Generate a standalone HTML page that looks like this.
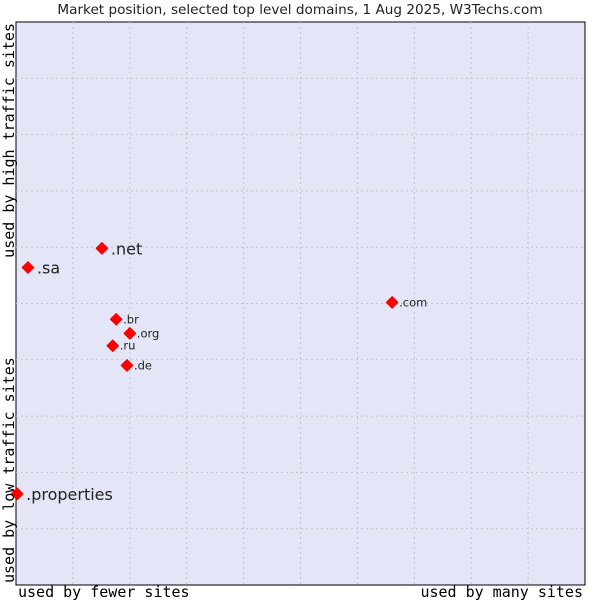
<!DOCTYPE html>
<html><head><meta charset="utf-8"><style>
body{margin:0;background:#fff;width:600px;height:600px;overflow:hidden}
svg{display:block}
</style></head><body>
<svg id="chart" width="600" height="600" xmlns="http://www.w3.org/2000/svg">
<text x="300" y="14" text-anchor="middle" font-family="DejaVu Sans, sans-serif" font-size="13.6" fill="#222">Market position, selected top level domains, 1 Aug 2025, W3Techs.com</text>
<rect x="16" y="22" width="569" height="563" fill="#e4e6f8" stroke="#000" stroke-width="1"/>
<g id="grid"></g>
<g id="points"></g>
<text x="18" y="597" font-family="DejaVu Sans Mono, monospace" font-size="15" fill="#000">used by fewer sites</text>
<text x="583" y="597" text-anchor="end" font-family="DejaVu Sans Mono, monospace" font-size="15" fill="#000">used by many sites</text>
<text transform="translate(14,23) rotate(-90)" text-anchor="end" font-family="DejaVu Sans Mono, monospace" font-size="15" fill="#000">used by high traffic sites</text>
<text transform="translate(14,583) rotate(-90)" font-family="DejaVu Sans Mono, monospace" font-size="15" fill="#000">used by low traffic sites</text>
</svg>
<script>
const labels = [".net", ".sa", ".com", ".br", ".org", ".ru", ".de", ".properties"];
const xValues = [15.1, 2.1, 66.1, 17.6, 20.0, 17.0, 19.5, 0.2];
const yValues = [59.8, 56.4, 50.2, 47.2, 44.7, 42.5, 39.0, 16.2];
const labelSizes = [16, 16, 11.5, 11.5, 11.5, 11.5, 11.5, 16];

const X0 = 16, X1 = 585, Y0 = 585, Y1 = 22;
function xs(v){ return X0 + v / 100 * (X1 - X0); }
function ys(v){ return Y0 - v / 100 * (Y0 - Y1); }
const NS = "http://www.w3.org/2000/svg";
const grid = document.getElementById('grid');
for (let i = 1; i < 10; i++) {
  const vx = document.createElementNS(NS, 'line');
  
  
  vx.setAttribute('x1', xs(i * 10)); vx.setAttribute('x2', xs(i * 10));
  vx.setAttribute('y1', Y1); vx.setAttribute('y2', Y0);
  vx.setAttribute('stroke', '#c4c4c4'); vx.setAttribute('stroke-dasharray', '2,3');
  grid.appendChild(vx);
  const hy = document.createElementNS(NS, 'line');
  
  
  hy.setAttribute('x1', X0); hy.setAttribute('x2', X1);
  hy.setAttribute('y1', ys(i * 10)); hy.setAttribute('y2', ys(i * 10));
  hy.setAttribute('stroke', '#c4c4c4'); hy.setAttribute('stroke-dasharray', '2,3');
  grid.appendChild(hy);
}
const pts = document.getElementById('points');
labels.forEach((lab, i) => {
  const cx = xs(xValues[i]), cy = ys(yValues[i]);
  const r = 5.5;
  const d = document.createElementNS(NS, 'polygon');
  
  
  d.setAttribute('points', `${cx},${cy-r} ${cx+r},${cy} ${cx},${cy+r} ${cx-r},${cy}`);
  d.setAttribute('fill', '#ff0000');
  d.setAttribute('stroke', '#ff0000');
  d.setAttribute('stroke-linejoin', 'round');
  d.setAttribute('stroke-width', '1.5');
  pts.appendChild(d);
  const t = document.createElementNS(NS, 'text');
  
  
  const big = labelSizes[i] > 12;
  t.setAttribute('x', cx + (big ? 9 : 7));
  t.setAttribute('y', cy + (big ? 6 : 4));
  t.setAttribute('font-family', 'DejaVu Sans, sans-serif');
  t.setAttribute('font-size', labelSizes[i]);
  t.setAttribute('fill', '#222');
  t.textContent = lab;
  pts.appendChild(t);
});
</script>
</body></html>
